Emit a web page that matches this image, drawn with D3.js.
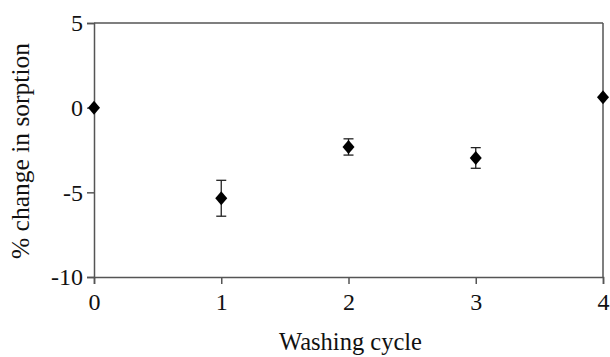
<!DOCTYPE html>
<html>
<head>
<meta charset="utf-8">
<script src="https://cdn.jsdelivr.net/npm/d3@7"></script>
</head>
<body style="margin:0; background:#fff">
<script>
// data
var cycles = [0, 1, 2, 3, 4];
var change = [0, -5.35, -2.32, -2.97, 0.62];
var errors = [0, 1.06, 0.48, 0.61, 0];
var xTicks = [0, 1, 2, 3, 4];
var yTicks = [-10, -5, 0, 5];

var serif = "'Liberation Serif', 'Times New Roman', serif";

var svgWidth = 610;
var svgHeight = 357;

var margin = { top: 23, right: 7, bottom: 80, left: 94 };
var width = svgWidth - margin.left - margin.right;
var height = svgHeight - margin.top - margin.bottom;

var svg = d3.select("body")
  .append("svg")
  .attr("width", svgWidth)
  .attr("height", svgHeight);

var chartGroup = svg.append("g")
  .attr("transform", `translate(${margin.left}, ${margin.top})`);

var xScale = d3.scaleLinear().domain([0, 4]).range([0, width]);
var yScale = d3.scaleLinear().domain([-10, 5]).range([height, 0]);

var axisColor = "#555";

// frame (top and right)
chartGroup.append("line")
  .attr("x1", 0).attr("x2", width).attr("y1", 0).attr("y2", 0)
  .attr("stroke", axisColor).attr("stroke-width", 1.5);
chartGroup.append("line")
  .attr("x1", width).attr("x2", width).attr("y1", 0).attr("y2", height)
  .attr("stroke", axisColor).attr("stroke-width", 1.5);

// axes
var bottomAxis = d3.axisBottom(xScale).tickValues(xTicks).tickSize(7).tickPadding(9).tickFormat(d3.format("d"));
var leftAxis = d3.axisLeft(yScale).tickValues(yTicks).tickSize(7).tickPadding(4)
  .tickFormat(d => d < 0 ? "-" + Math.abs(d) : d);

var xAxis = chartGroup.append("g")
  .attr("transform", `translate(0, ${height})`)
  .call(bottomAxis);
var yAxis = chartGroup.append("g").call(leftAxis);

[xAxis, yAxis].forEach(function(ax) {
  ax.attr("font-family", serif).attr("font-size", 24);
  ax.select(".domain").attr("stroke", axisColor).attr("stroke-width", 1.5);
  ax.selectAll(".tick line").attr("stroke", axisColor).attr("stroke-width", 1.5);
  ax.selectAll(".tick text")
    .style("font-family", serif)
    .style("font-size", "24px")
    .attr("fill", "#111");
});

// error bars
var points = chartGroup.selectAll(null)
  .data(cycles.map((c, i) => ({ x: c, y: change[i], e: errors[i] })))
  .enter()
  .append("g");

points.filter(d => d.e > 0).each(function(d) {
  var g = d3.select(this);
  var cx = xScale(d.x);
  g.append("line")
    .attr("x1", cx).attr("x2", cx)
    .attr("y1", yScale(d.y + d.e)).attr("y2", yScale(d.y - d.e))
    .attr("stroke", "#222").attr("stroke-width", 1.3);
  [d.y + d.e, d.y - d.e].forEach(function(v) {
    g.append("line")
      .attr("x1", cx - 5).attr("x2", cx + 5)
      .attr("y1", yScale(v)).attr("y2", yScale(v))
      .attr("stroke", "#222").attr("stroke-width", 1.3);
  });
});

// diamond markers
points.append("path")
  .attr("d", "M0,-7L6,0L0,7L-6,0Z")
  .attr("transform", d => `translate(${xScale(d.x)}, ${yScale(d.y)})`)
  .attr("fill", "#000");

// axis labels
chartGroup.append("text")
  .attr("x", width / 2 + 2)
  .attr("y", height + 73)
  .attr("text-anchor", "middle")
  .attr("font-family", serif)
  .style("font-size", "24.5px")
  .attr("fill", "#111")
  .text("Washing cycle");

chartGroup.append("text")
  .attr("transform", "rotate(-90)")
  .attr("x", 0 - height / 2 - 1)
  .attr("y", 0 - margin.left + 29)
  .attr("text-anchor", "middle")
  .attr("font-family", serif)
  .style("font-size", "25.5px")
  .attr("fill", "#111")
  .text("% change in sorption");
</script>
</body>
</html>
